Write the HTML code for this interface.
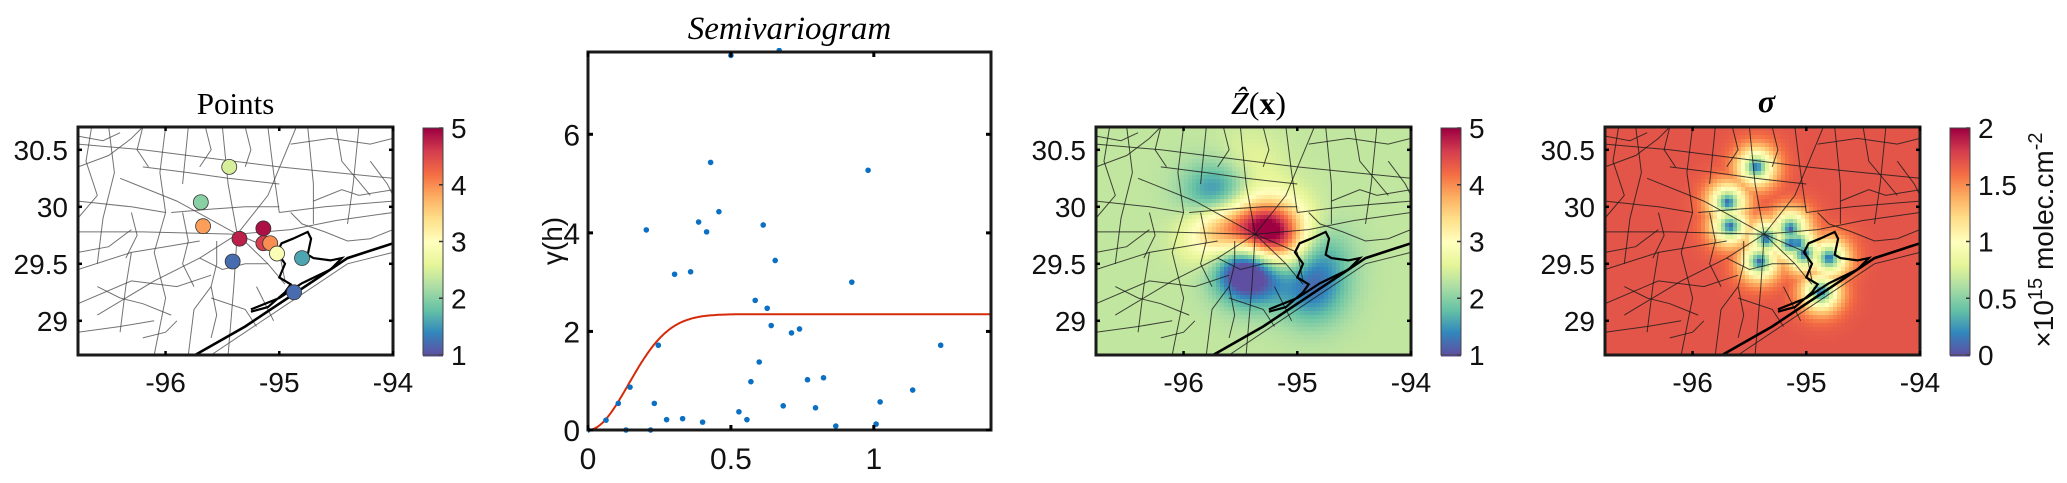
<!DOCTYPE html>
<html><head><meta charset="utf-8">
<style>
html,body{margin:0;padding:0;background:#fff;}
#wrap{position:relative;width:2067px;height:483px;overflow:hidden;font-family:"Liberation Sans",sans-serif;}
svg{position:absolute;left:0;top:0;}
</style></head>
<body>
<div id="wrap">
<svg id="mainsvg" width="2067" height="483" xmlns="http://www.w3.org/2000/svg"></svg>
</div>
<script>
// ---------- data ----------
const ptLon = [-95.44,-95.69,-95.67,-95.35,-95.14,-95.14,-95.08,-95.02,-95.41,-94.80,-94.87];
const ptLat = [30.35,30.04,29.83,29.72,29.81,29.68,29.68,29.59,29.52,29.55,29.25];
const ptVal = [2.5,2.0,3.9,4.8,4.9,4.6,4.0,2.9,1.2,1.6,1.2];
const lagH = [0,0.063,0.106,0.133,0.147,0.204,0.219,0.232,0.246,0.275,0.303,0.331,0.359,0.387,0.401,0.415,0.429,0.458,0.5,0.528,0.556,0.57,0.585,0.599,0.613,0.627,0.641,0.655,0.669,0.683,0.712,0.74,0.768,0.796,0.824,0.867,0.923,0.98,1.008,1.022,1.136,1.234];
const gammaV = [0,0.2,0.54,0.0,0.87,4.06,0,0.54,1.72,0.21,3.16,0.23,3.21,4.22,0.16,4.02,5.43,4.43,7.6,0.37,0.21,0.98,2.63,1.38,4.16,2.47,2.12,3.44,7.7,0.49,1.97,2.05,1.02,0.45,1.06,0.08,3.0,5.27,0.12,0.57,0.81,1.72];
const modelSill = [2.35];
const modelRange = [0.2];
const krigMean = [2.35];
const sigmaSill = [2.9];
const xTicksVar = [0,0.5,1];
const yTicksVar = [0,2,4,6];
const lonTicks = [-96,-95,-94];
const latTicks = [29,29.5,30,30.5];
const cbTicks1 = [1,2,3,4,5];
const cbTicks4 = [0,0.5,1,1.5,2];

// ---------- geometry ----------
const LON0=-96.77, LON1=-94.0, LAT0=28.7, LAT1=30.7, MW=315, MH=228, MT=127;
const panels=[78,1096,1605];
const SVGNS="http://www.w3.org/2000/svg";
const root=document.getElementById('mainsvg');
function el(tag,attrs,parent){const e=document.createElementNS(SVGNS,tag);for(const k in attrs)e.setAttribute(k,attrs[k]);(parent||root).appendChild(e);return e;}
const lx=(lon)=> (lon-LON0)/(LON1-LON0)*MW;
const ly=(lat)=> (LAT1-lat)/(LAT1-LAT0)*MH;

const stops=['#5e4fa2','#3288bd','#66c2a5','#abdda4','#e6f598','#ffffbf','#fee08b','#fdae61','#f46d43','#d53e4f','#9e0142'];
const stopRGB=stops.map(s=>[parseInt(s.slice(1,3),16),parseInt(s.slice(3,5),16),parseInt(s.slice(5,7),16)]);
function cmap(v){v=Math.max(0,Math.min(1,v));const f=v*10,i=Math.min(9,Math.floor(f)),u=f-i;const p=stopRGB[i],q=stopRGB[i+1];return 'rgb('+Math.round(p[0]+(q[0]-p[0])*u)+','+Math.round(p[1]+(q[1]-p[1])*u)+','+Math.round(p[2]+(q[2]-p[2])*u)+')';}

const roads=[
[[-96.77,29.78],[-96.2,29.78],[-95.37,29.76],[-94.9,29.8],[-94.5,29.88],[-94,29.95]],
[[-95.37,29.76],[-95.45,30.2],[-95.5,30.7]],
[[-95.37,29.76],[-95.1,30.1],[-94.85,30.7]],
[[-95.37,29.76],[-95.9,30.05],[-96.4,30.25]],
[[-95.37,29.76],[-95.7,29.55],[-96.1,29.35],[-96.6,29.05]],
[[-95.37,29.76],[-95.1,29.5],[-94.95,29.32]],
[[-95.37,29.76],[-95.4,29.3],[-95.45,28.7]],
[[-95.37,29.76],[-95.0,29.6],[-94.95,29.35]],
[[-96.77,30.55],[-96.2,30.5],[-95.8,30.45],[-95.0,30.35],[-94.5,30.3],[-94,30.25]],
[[-96.77,30.05],[-96.3,30.0],[-96.0,29.95]],
[[-96.0,30.7],[-96.05,30.3],[-96.0,29.95],[-96.1,29.6],[-96.0,29.2],[-96.1,28.7]],
[[-95.8,30.7],[-95.85,30.2]],
[[-95.1,30.7],[-95.05,30.3],[-95.0,29.95]],
[[-94.75,30.7],[-94.7,30.2],[-94.7,29.85]],
[[-94.3,30.7],[-94.35,30.2],[-94.4,29.85]],
[[-96.77,29.45],[-96.3,29.6],[-96.0,29.65],[-95.7,29.7]],
[[-96.77,29.15],[-96.3,29.35],[-95.9,29.3],[-95.6,29.4]],
[[-95.8,28.7],[-95.75,29.1],[-95.6,29.3]],
[[-96.5,30.7],[-96.45,30.3],[-96.55,29.9],[-96.6,29.5]],
[[-96.77,28.9],[-96.4,28.95],[-96.1,29.0]],
[[-95.0,29.95],[-94.6,30.0],[-94.0,30.05]],
[[-96.2,30.35],[-95.8,30.3],[-95.45,30.25],[-95.0,30.2]],
[[-95.95,29.95],[-95.6,29.98],[-95.3,30.0],[-95.0,30.0]],
[[-95.6,29.2],[-95.3,29.1],[-95.2,28.95]],
[[-95.6,28.7],[-95.0,29.1],[-94.4,29.5],[-94,29.6]],
[[-96.77,30.35],[-96.5,30.45],[-96.3,30.6],[-96.2,30.7]],
[[-95.7,29.55],[-95.5,29.45],[-95.3,29.5],[-95.1,29.5]],
[[-96.3,29.6],[-96.35,29.3],[-96.4,28.9]],
[[-94.5,30.7],[-94.45,30.4],[-94.2,30.1]],
[[-96.77,30.62],[-96.55,30.58],[-96.4,30.65]],
[[-96.65,30.7],[-96.7,30.4],[-96.6,30.1],[-96.77,29.9]],
[[-96.2,30.7],[-96.25,30.5],[-96.15,30.35]],
[[-95.65,30.7],[-95.6,30.5],[-95.7,30.35]],
[[-95.3,30.7],[-95.25,30.5],[-95.3,30.35]],
[[-94.9,30.55],[-94.55,30.6],[-94.2,30.55],[-94,30.6]],
[[-94.2,30.4],[-94.05,30.2],[-94,30.1]],
[[-96.3,29.95],[-96.25,29.75],[-96.35,29.55]],
[[-95.85,29.95],[-95.8,29.7],[-95.85,29.5],[-95.75,29.3]],
[[-95.55,29.7],[-95.55,29.5],[-95.6,29.3],[-95.55,29.05],[-95.6,28.85]],
[[-95.2,29.3],[-95.05,29.0]],
[[-96.77,29.6],[-96.5,29.65],[-96.3,29.8]],
[[-96.6,29.3],[-96.4,29.2],[-96.2,29.15],[-95.95,29.05]],
[[-96.2,28.85],[-96.0,28.9],[-95.9,29.0]],
[[-94.7,30.05],[-94.45,30.15],[-94.3,30.1],[-94.0,30.15]],
[[-94.9,29.95],[-94.8,29.85],[-94.6,29.78],[-94.4,29.7],[-94.2,29.72],[-94,29.8]]
];
const coast=[[-95.74,28.7],[-95.3,28.95],[-95.0,29.15],[-94.7,29.35],[-94.4,29.55],[-94,29.68]];
const bay=[[-95.25,29.08],[-95.1,29.12],[-94.95,29.25],[-94.9,29.32],[-95.0,29.38],[-94.95,29.5],[-95.02,29.6],[-94.98,29.68],[-94.88,29.72],[-94.75,29.78],[-94.72,29.72],[-94.75,29.58],[-94.7,29.55],[-94.55,29.53],[-94.45,29.55],[-94.55,29.45],[-94.8,29.33],[-95.0,29.2],[-95.25,29.1]];
const pts=(arr)=>arr.map(p=>lx(p[0]).toFixed(1)+','+ly(p[1]).toFixed(1)).join(' ');

// ---------- kriging ----------
function cov(dd,ss,aa){return ss*Math.exp(-(dd/aa)*(dd/aa));}
const N=ptLon.length;
function solve(A,b){const n=b.length;const M=A.map((r,i)=>r.concat([b[i]]));for(let i=0;i<n;i++){let p=i;for(let r=i+1;r<n;r++){if(Math.abs(M[r][i])>Math.abs(M[p][i]))p=r;}const tmp=M[i];M[i]=M[p];M[p]=tmp;for(let r=0;r<n;r++){if(r===i)continue;const f=M[r][i]/M[i][i];for(let c=i;c<=n;c++)M[r][c]-=f*M[i][c];}}return M.map((r,i)=>r[n]/r[i]);}
const KA=0.3, KS=modelSill[0];
const K=[];for(let i=0;i<N;i++){K.push([]);for(let j=0;j<N;j++){const dist=Math.hypot(ptLon[i]-ptLon[j],ptLat[i]-ptLat[j]);K[i].push(cov(dist,KS,KA)+(i===j?0.15:0));}}
const resid=ptVal.map(v=>v-krigMean[0]);
const wts=solve(K,resid);
const Kinv=[];for(let j=0;j<N;j++){const e=new Array(N).fill(0);e[j]=1;Kinv.push(solve(K,e));}
function estZ(lon,lat){let z=krigMean[0];for(let i=0;i<N;i++)z+=wts[i]*cov(Math.hypot(lon-ptLon[i],lat-ptLat[i]),KS,KA);return z;}
function estSig(lon,lat){const k=[];for(let i=0;i<N;i++)k.push(cov(Math.hypot(lon-ptLon[i],lat-ptLat[i]),KS,0.27));let q=0;for(let i=0;i<N;i++)for(let j=0;j<N;j++)q+=k[i]*k[j]*0;let best=0;for(let i=0;i<N;i++)best=Math.max(best,k[i]/KS);return Math.sqrt(Math.max(0,1-best*best)*sigmaSill[0]);}
const CELL=4;
function drawHeat(px,fn,vmin,vmax,name){
  const g=el('g',{transform:`translate(${px},${MT})`,'shape-rendering':'crispEdges'});
  
  
  for(let y=0;y<MH;y+=CELL){const lat=LAT1-(y+CELL/2)/MH*(LAT1-LAT0);
    for(let x=0;x<MW;x+=CELL){const lon=LON0+(x+CELL/2)/MW*(LON1-LON0);
      el('rect',{x:x,y:y,width:Math.min(CELL+0.6,MW-x),height:Math.min(CELL+0.6,MH-y),fill:cmap((fn(lon,lat)-vmin)/(vmax-vmin))},g);}}
}
function drawCb(x0,name){const g=el('g',{'shape-rendering':'crispEdges'});
  for(let y=0;y<227;y+=2){el('rect',{x:x0,y:128+y,width:20,height:2.5,fill:cmap(1-y/226)},g);}}
try{ drawHeat(1096,estZ,1,5,'kriging-estimate-heatmap'); }catch(e){}
try{ drawHeat(1605,estSig,0,2,'kriging-sigma-heatmap'); }catch(e){}
drawCb(423,'points-colorbar');drawCb(1441,'estimate-colorbar');drawCb(1950,'sigma-colorbar');

// ---------- maps ----------
panels.forEach((px,pi)=>{
  const g=el('g',{transform:`translate(${px},${MT})`});
  
  
  const cp=el('clipPath',{id:'clip'+pi},g);el('rect',{x:0,y:0,width:MW,height:MH},cp);
  const inn=el('g',{'clip-path':`url(#clip${pi})`},g);
  roads.forEach(r=>{const l=el('polyline',{points:pts(r),fill:'none',stroke:pi===0?'#444':'#1a1a1a','stroke-width':1,'stroke-opacity':pi===0?0.75:0.8},inn);});
  const c1=el('polyline',{points:pts(coast),fill:'none',stroke:'#000','stroke-width':2.6},inn);
  
  const b1=el('polyline',{points:pts(bay),fill:'none',stroke:'#000','stroke-width':2.2},inn);
  
  if(pi===0){
    for(let i=0;i<N;i++){const c=el('circle',{cx:lx(ptLon[i]),cy:ly(ptLat[i]),r:7.5,fill:cmap((ptVal[i]-1)/4),stroke:'#333','stroke-width':0.8},inn);}
  }
  const fr=el('rect',{x:0,y:0,width:MW,height:MH,fill:'none',stroke:'#1a1a1a','stroke-width':3},g);
  
  lonTicks.forEach(tk=>{const x=lx(tk);el('line',{x1:x,y1:MH,x2:x,y2:MH-4,stroke:'#000','stroke-width':2.5},g);el('line',{x1:x,y1:0,x2:x,y2:4,stroke:'#000','stroke-width':2.5},g);
    const tx=el('text',{x:x,y:MH+37,'font-size':28,'text-anchor':'middle',fill:'#111'},g);tx.textContent=String(tk);});
  latTicks.forEach(tk=>{const y=ly(tk);el('line',{x1:0,y1:y,x2:4,y2:y,stroke:'#000','stroke-width':2.5},g);el('line',{x1:MW,y1:y,x2:MW-4,y2:y,stroke:'#000','stroke-width':2.5},g);
    const tx=el('text',{x:-10,y:y+10,'font-size':28,'text-anchor':'end',fill:'#111'},g);tx.textContent=String(tk);});
});
// titles
let tt=el('text',{x:78+MW/2,y:114,'font-size':31,'text-anchor':'middle','font-family':'Liberation Serif, serif'});tt.textContent='Points';
tt=el('text',{x:1096+MW/2+5,y:114,'font-size':32,'text-anchor':'middle','font-family':'Liberation Serif, serif'});

const ts1=el('tspan',{'font-style':'italic'},tt);ts1.textContent='Ẑ';
const ts2=el('tspan',{},tt);ts2.textContent='(';
const ts3=el('tspan',{'font-weight':'bold'},tt);ts3.textContent='x';
const ts4=el('tspan',{},tt);ts4.textContent=')';
tt=el('text',{x:1605+MW/2+4,y:112,'font-size':32,'text-anchor':'middle','font-family':'Liberation Serif, serif','font-style':'italic','font-weight':'bold'});tt.textContent='σ';

// colorbar ticks
function cbTicks(x0,ticks,vmin,vmax){ticks.forEach(v=>{const y=128+(1-(v-vmin)/(vmax-vmin))*227;el('line',{x1:x0+20,y1:y,x2:x0+16,y2:y,stroke:'#333','stroke-width':1.5});const tx=el('text',{x:x0+28,y:y+10,'font-size':28,fill:'#111'});tx.textContent=String(v);});
  el('rect',{x:x0,y:128,width:20,height:227,fill:'none',stroke:'#444','stroke-width':1});}
cbTicks(423,cbTicks1,1,5);
cbTicks(1441,cbTicks1,1,5);
cbTicks(1950,cbTicks4,0,2);
tt=el('text',{x:0,y:0,'font-size':28,'text-anchor':'middle',transform:'translate(2053,240) rotate(-90)',fill:'#111'});

[['×10',0,28],['15',-11,20],[' molec.cm',11,28],['-2',-11,20]].forEach(p=>{const s=el('tspan',{dy:p[1],'font-size':p[2]},tt);s.textContent=p[0];});

// ---------- semivariogram ----------
const VX=588, VY=52, VW=403, VH=378, HMAX=1.41, GMAX=7.67;
const vx=(h)=>VX+h/HMAX*VW, vy=(gv)=>VY+VH-gv/GMAX*VH;
const vg=el('g',{});
const vcp=el('clipPath',{id:'vclip'},vg);el('rect',{x:VX,y:VY-4,width:VW,height:VH+8},vcp);
const vin=el('g',{'clip-path':'url(#vclip)'},vg);
let dp='';for(let i=0;i<=300;i++){const h=i/300*HMAX;const gv=modelSill[0]*(1-Math.exp(-Math.pow(h/modelRange[0],2)));dp+=(i?'L':'M')+vx(h).toFixed(1)+','+vy(gv).toFixed(1);}
const cv=el('path',{d:dp,fill:'none',stroke:'#d62b0a','stroke-width':2},vin);
for(let i=0;i<lagH.length;i++){const c=el('circle',{cx:vx(lagH[i]),cy:vy(gammaV[i]),r:2.8,fill:'#0b6fc4'},vin);}
const vf=el('rect',{x:VX,y:VY,width:VW,height:VH,fill:'none',stroke:'#1a1a1a','stroke-width':3},vg);
xTicksVar.forEach(h=>{const x=vx(h);el('line',{x1:x,y1:VY+VH,x2:x,y2:VY+VH-5,stroke:'#000','stroke-width':3},vg);el('line',{x1:x,y1:VY,x2:x,y2:VY+5,stroke:'#000','stroke-width':3},vg);const tx=el('text',{x:x,y:VY+VH+39,'font-size':30,'text-anchor':'middle',fill:'#111'},vg);tx.textContent=String(h);});
yTicksVar.forEach(gv=>{const y=vy(gv);el('line',{x1:VX,y1:y,x2:VX+5,y2:y,stroke:'#000','stroke-width':3},vg);el('line',{x1:VX+VW,y1:y,x2:VX+VW-5,y2:y,stroke:'#000','stroke-width':3},vg);const tx=el('text',{x:VX-8,y:y+11,'font-size':30,'text-anchor':'end',fill:'#111'},vg);tx.textContent=String(gv);});
tt=el('text',{x:0,y:0,'font-size':28,'text-anchor':'middle',transform:`translate(562,${VY+VH/2}) rotate(-90)`,fill:'#111'},vg);tt.textContent='γ(h)';
tt=el('text',{x:VX+VW/2,y:39,'font-size':33,'text-anchor':'middle','font-family':'Liberation Serif, serif','font-style':'italic'},vg);tt.textContent='Semivariogram';
</script>
</body></html>
